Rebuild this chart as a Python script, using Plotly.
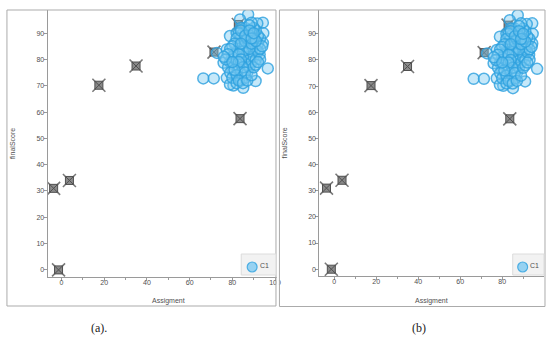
import plotly.graph_objects as go

W, H = 548, 338

# ---- data ----
assign_c1 = [66.4, 71.3, 96.6, 90.9, 85.1, 80.5, 87.4, 83.6, 94.3, 91.7,
             72.8, 77.4, 75.9, 78.9, 82.0, 92.8, 94.3, 94.5, 77.4, 78.9,
             80, 81, 82, 83, 84, 85, 86, 87, 88, 89, 90, 91, 92, 93, 88, 87,
             86, 85, 84, 83, 82, 81, 80, 79, 78, 79, 80, 82, 84, 86, 87, 88,
             89, 90, 91, 92, 93, 94, 92, 91, 90, 89, 88, 87, 86, 85, 84, 83,
             82, 81, 80, 79, 78, 77, 76, 85, 86, 87, 88, 89, 90, 91, 89, 88,
             84, 86, 83, 84, 85, 86, 82, 83, 85, 87, 89, 90, 91, 93, 92,
             88, 84, 83, 81, 80, 89, 90]
final_c1 = [72.8, 72.8, 76.6, 71.8, 69.2, 70.1, 97.1, 95.2, 94.0, 93.7,
            82.5, 83.8, 78.7, 88.9, 90.1, 81.9, 86.3, 90.0, 73.0, 70.5,
            76, 78, 80, 77, 75, 79, 81, 78, 80, 83, 85, 84, 86, 88, 87, 85,
            84, 86, 88, 85, 83, 82, 81, 79, 77, 75, 73, 74, 72, 73, 75, 77,
            79, 81, 80, 83, 84, 85, 89, 91, 92, 90, 89, 91, 92, 90, 92, 90,
            88, 86, 85, 84, 82, 80, 81, 83, 87, 88, 84, 86, 88, 87, 94, 93,
            91, 89, 82, 80, 77, 75, 71, 72, 71, 72, 74, 77, 78, 80, 79,
            91, 86, 79, 76, 79, 88, 90]
assign_out = [-1.4, -3.7, 3.7, 17.5, 34.9, 71.4, 83.6, 82.8]
final_out = [0, 31, 34, 70.2, 77.5, 82.8, 57.5, 93.3]

x_ticks = [0, 20, 40, 60, 80, 100]
x_minor = [10, 30, 50, 70, 90]
y_ticks = [0, 10, 20, 30, 40, 50, 60, 70, 80, 90]
series_name = "C1"
x_title = "Assigment"
y_title = "finalScore"
captions = ["(a).", "(b)"]


def PX(x):
    return x / W


def PY(y):
    return 1 - y / H


panels = [
    dict(dx=(48, 279), dy=(277, 10), xr=[-6.5, 100.9], yr=[-2.7, 98.8],
         frame=(7, 10, 278, 306), legend=(243, 254, 278, 275), circ=(254, 267),
         ctext=266, ytitle=(12, 143), xtitle=(170, 300.5), cap=(100, 328)),
    dict(dx=(321.7, 548), dy=(276, 10), xr=[-7.1, 99.9], yr=[-2.6, 99.1],
         frame=(281.5, 10, 549, 306.5), legend=(516.5, 254, 548, 275), circ=(526.5, 267),
         ctext=538, ytitle=(286.5, 143), xtitle=(435, 300.5), cap=(421.7, 328)),
]

fig = go.Figure()
shapes = []
annotations = []
tickfont = dict(family="Liberation Sans, Arial", size=7, color="#505050")
blue_fill = "rgba(120,200,240,0.42)"
blue_line = "rgba(45,160,222,0.8)"


def ann(x, y, text, font, **kw):
    d = dict(x=PX(x), y=PY(y), xref="paper", yref="paper", text=text, showarrow=False,
             xanchor="center", yanchor="middle", font=font)
    d.update(kw)
    return d


for i, p in enumerate(panels):
    sfx = "" if i == 0 else str(i + 1)
    xa, ya = "x" + sfx, "y" + sfx
    # gray outliers
    fig.add_trace(go.Scatter(x=assign_out, y=final_out, mode="markers", xaxis=xa, yaxis=ya,
                             showlegend=False, hoverinfo="skip",
                             marker=dict(symbol="x-thin-open", size=13, color="#7a7a7a",
                                         line=dict(color="#7a7a7a", width=1.6))))
    fig.add_trace(go.Scatter(x=assign_out, y=final_out, mode="markers", xaxis=xa, yaxis=ya,
                             showlegend=False, hoverinfo="skip",
                             marker=dict(symbol="square-x", size=8, color="#8a8a8a",
                                         line=dict(color="#505050", width=1))))
    fig.add_trace(go.Scatter(x=assign_c1, y=final_c1, mode="markers", xaxis=xa, yaxis=ya,
                             name=series_name, showlegend=False,
                             marker=dict(symbol="circle", size=11, color=blue_fill,
                                         line=dict(color=blue_line, width=1.5))))
    common = dict(showline=True, linecolor="#9a9a9a", linewidth=1, showgrid=False,
                  zeroline=False, ticks="outside", ticklen=3, tickcolor="#9a9a9a",
                  tickfont=tickfont, fixedrange=True)
    fig.update_layout(**{
        ("xaxis" + sfx): dict(domain=[PX(p["dx"][0]), PX(p["dx"][1])], range=p["xr"],
                              anchor=ya, tickvals=x_ticks, ticklabelstandoff=-4,
                              minor=dict(ticks="outside", ticklen=2, tickvals=x_minor,
                                         tickcolor="#9a9a9a"),
                              **common),
        ("yaxis" + sfx): dict(domain=[PY(p["dy"][0]), PY(p["dy"][1])], range=p["yr"],
                              anchor=xa, tickvals=y_ticks, ticklabelstandoff=-2, **common),
    })
    fx0, fy0, fx1, fy1 = p["frame"]
    shapes.append(dict(type="rect", xref="paper", yref="paper", layer="above",
                       x0=PX(fx0), x1=PX(fx1), y0=PY(fy0), y1=PY(fy1),
                       line=dict(color="#ababab", width=1)))
    lx0, ly0, lx1, ly1 = p["legend"]
    shapes.append(dict(type="rect", xref="paper", yref="paper", layer="above",
                       x0=PX(lx0), x1=PX(lx1), y0=PY(ly0), y1=PY(ly1),
                       fillcolor="#f2f2f2", line=dict(color="#dcdcdc", width=1)))
    cx, cy = p["circ"]
    shapes.append(dict(type="circle", xref="paper", yref="paper", layer="above",
                       x0=PX(cx - 5), x1=PX(cx + 5), y0=PY(cy + 5), y1=PY(cy - 5),
                       fillcolor="rgba(150,210,242,1)", line=dict(color=blue_line, width=1.2)))
    small = dict(family="Liberation Sans, Arial", size=7, color="#505050")
    annotations.append(ann(p["ctext"], 265.5, series_name, small))
    annotations.append(ann(p["ytitle"][0], p["ytitle"][1], y_title, small, textangle=-90))
    annotations.append(ann(p["xtitle"][0], p["xtitle"][1], x_title, small))
    annotations.append(ann(p["cap"][0], p["cap"][1], captions[i],
                           dict(family="Liberation Serif, Times New Roman", size=12, color="#222")))

# white gap between the two frames (clips the cut tick label)
shapes.insert(0, dict(type="rect", xref="paper", yref="paper", layer="above",
                      x0=PX(278.5), x1=PX(281), y0=PY(292), y1=PY(277.5),
                      fillcolor="white", line=dict(width=0)))

fig.update_layout(width=W, height=H, margin=dict(l=0, r=0, t=0, b=0),
                  paper_bgcolor="white", plot_bgcolor="white",
                  shapes=shapes, annotations=annotations, showlegend=False)
fig.write_html("out.html", config={"displayModeBar": False},
               post_script="document.body.style.margin='0';document.body.style.overflow='hidden';")
